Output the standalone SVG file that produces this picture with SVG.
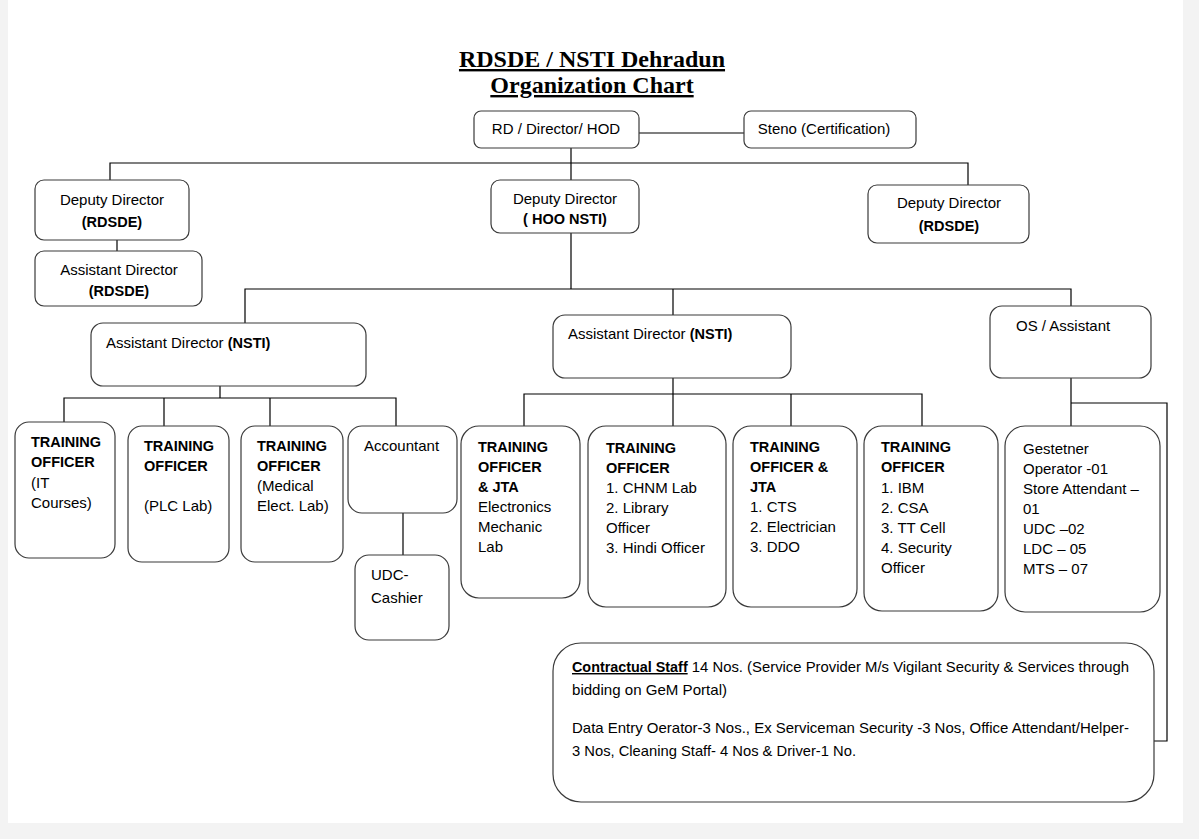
<svg xmlns="http://www.w3.org/2000/svg" width="1199" height="839" viewBox="0 0 1199 839">
<style>
.bx{fill:#fff;stroke:#3a3a3a;stroke-width:1.2}
.t{font-family:"Liberation Sans",Arial,sans-serif;font-size:15px;fill:#000}
.c{text-anchor:middle}
.b{font-weight:bold;font-size:14.5px}
.ttl{font-family:"Liberation Serif","Times New Roman",serif;font-size:24px;font-weight:bold;text-anchor:middle;text-decoration:underline}
.ln{fill:none;stroke:#000;stroke-width:1.2}
</style>
<rect x="0" y="0" width="1199" height="839" fill="#f3f3f3"/>
<rect x="8" y="0" width="1175" height="823" fill="#fff"/>
<text class="ttl" x="592" y="67">RDSDE / NSTI Dehradun</text>
<text class="ttl" x="592" y="93">Organization Chart</text>
<g id="connectors">
<path class="ln" d="M639 133H744"/>
<path class="ln" d="M571 148V181M110 181V163H968V185"/>
<path class="ln" d="M117 240V251"/>
<path class="ln" d="M571 233V289M245 323V289H1071V306M673 289V315"/>
<path class="ln" d="M220 378V398M64 422V398H396V426M164 398V426M270 398V426"/>
<path class="ln" d="M403 513V555"/>
<path class="ln" d="M673 378V426M524 426V394H922V428M791 394V426"/>
<path class="ln" d="M1071 378V426M1071 403H1167V741H1154"/>
</g>
<g id="rd"><rect class="bx" x="474" y="111" width="165" height="37" rx="7"/><text class="t c" x="556" y="134">RD / Director/ HOD</text></g>
<g id="steno"><rect class="bx" x="744" y="111" width="172" height="37" rx="7"/><text class="t c" x="824" y="134">Steno (Certification)</text></g>
<g id="dd-rdsde-left"><rect class="bx" x="35" y="180" width="154" height="60" rx="9"/><text class="t c" x="112" y="205">Deputy Director</text><text class="t c b" x="112" y="227">(RDSDE)</text></g>
<g id="ad-rdsde"><rect class="bx" x="35" y="251" width="167" height="55" rx="9"/><text class="t c" x="119" y="275">Assistant Director</text><text class="t c b" x="119" y="296">(RDSDE)</text></g>
<g id="dd-hoo"><rect class="bx" x="491" y="180" width="148" height="53" rx="9"/><text class="t c" x="565" y="204">Deputy Director</text><text class="t c b" x="565" y="224">( HOO NSTI)</text></g>
<g id="dd-rdsde-right"><rect class="bx" x="868" y="185" width="161" height="58" rx="9"/><text class="t c" x="949" y="208">Deputy Director</text><text class="t c b" x="949" y="231">(RDSDE)</text></g>
<g id="ad-nsti-left"><rect class="bx" x="91" y="323" width="275" height="63" rx="12"/><text class="t" x="106" y="348">Assistant Director <tspan class="b">(NSTI)</tspan></text></g>
<g id="ad-nsti-mid"><rect class="bx" x="553" y="315" width="238" height="63" rx="12"/><text class="t" x="568" y="339">Assistant Director <tspan class="b">(NSTI)</tspan></text></g>
<g id="os"><rect class="bx" x="990" y="306" width="161" height="72" rx="12"/><text class="t" x="1016" y="331">OS / Assistant</text></g>
<g id="to-it"><rect class="bx" x="15" y="422" width="100" height="136" rx="14"/><text class="t b" x="31" y="447">TRAINING</text><text class="t b" x="31" y="467">OFFICER</text><text class="t" x="31" y="488">(IT</text><text class="t" x="31" y="508">Courses)</text></g>
<g id="to-plc"><rect class="bx" x="128" y="426" width="101" height="136" rx="14"/><text class="t b" x="144" y="451">TRAINING</text><text class="t b" x="144" y="471">OFFICER</text><text class="t" x="144" y="511">(PLC Lab)</text></g>
<g id="to-med"><rect class="bx" x="241" y="426" width="102" height="136" rx="14"/><text class="t b" x="257" y="451">TRAINING</text><text class="t b" x="257" y="471">OFFICER</text><text class="t" x="257" y="491">(Medical</text><text class="t" x="257" y="511">Elect. Lab)</text></g>
<g id="accountant"><rect class="bx" x="348" y="426" width="109" height="87" rx="14"/><text class="t" x="364" y="451">Accountant</text></g>
<g id="udc-cashier"><rect class="bx" x="355" y="555" width="94" height="85" rx="14"/><text class="t" x="371" y="580">UDC-</text><text class="t" x="371" y="603">Cashier</text></g>
<g id="to-em"><rect class="bx" x="461" y="426" width="119" height="172" rx="18"/><text class="t b" x="478" y="452">TRAINING</text><text class="t b" x="478" y="472">OFFICER</text><text class="t b" x="478" y="492">&amp; JTA</text><text class="t" x="478" y="512">Electronics</text><text class="t" x="478" y="532">Mechanic</text><text class="t" x="478" y="552">Lab</text></g>
<g id="to-chnm"><rect class="bx" x="588" y="426" width="138" height="181" rx="18"/><text class="t b" x="606" y="453">TRAINING</text><text class="t b" x="606" y="473">OFFICER</text><text class="t" x="606" y="493">1. CHNM Lab</text><text class="t" x="606" y="513">2. Library</text><text class="t" x="606" y="533">Officer</text><text class="t" x="606" y="553">3. Hindi Officer</text></g>
<g id="to-cts"><rect class="bx" x="733" y="426" width="124" height="181" rx="18"/><text class="t b" x="750" y="452">TRAINING</text><text class="t b" x="750" y="472">OFFICER &amp;</text><text class="t b" x="750" y="492">JTA</text><text class="t" x="750" y="512">1. CTS</text><text class="t" x="750" y="532">2. Electrician</text><text class="t" x="750" y="552">3. DDO</text></g>
<g id="to-ibm"><rect class="bx" x="864" y="426" width="134" height="185" rx="18"/><text class="t b" x="881" y="452">TRAINING</text><text class="t b" x="881" y="472">OFFICER</text><text class="t" x="881" y="493">1. IBM</text><text class="t" x="881" y="513">2. CSA</text><text class="t" x="881" y="533">3. TT Cell</text><text class="t" x="881" y="553">4. Security</text><text class="t" x="881" y="573">Officer</text></g>
<g id="staff"><rect class="bx" x="1005" y="426" width="155" height="186" rx="20"/><text class="t" x="1023" y="454">Gestetner</text><text class="t" x="1023" y="474">Operator -01</text><text class="t" x="1023" y="494">Store Attendant –</text><text class="t" x="1023" y="514">01</text><text class="t" x="1023" y="534">UDC –02</text><text class="t" x="1023" y="554">LDC – 05</text><text class="t" x="1023" y="574">MTS – 07</text></g>
<g id="contractual"><rect class="bx" x="553" y="643" width="601" height="159" rx="28"/>
<text class="t" x="572" y="672" textLength="557" lengthAdjust="spacingAndGlyphs"><tspan class="b" text-decoration="underline">Contractual Staff</tspan> 14 Nos. (Service Provider M/s Vigilant Security &amp; Services through</text>
<text class="t" x="572" y="695" textLength="155" lengthAdjust="spacingAndGlyphs">bidding on GeM Portal)</text>
<text class="t" x="572" y="733" textLength="557" lengthAdjust="spacingAndGlyphs">Data Entry Oerator-3 Nos., Ex Serviceman Security -3 Nos, Office Attendant/Helper-</text>
<text class="t" x="572" y="756" textLength="284" lengthAdjust="spacingAndGlyphs">3 Nos, Cleaning Staff- 4 Nos &amp; Driver-1 No.</text>
</g>
</svg>
